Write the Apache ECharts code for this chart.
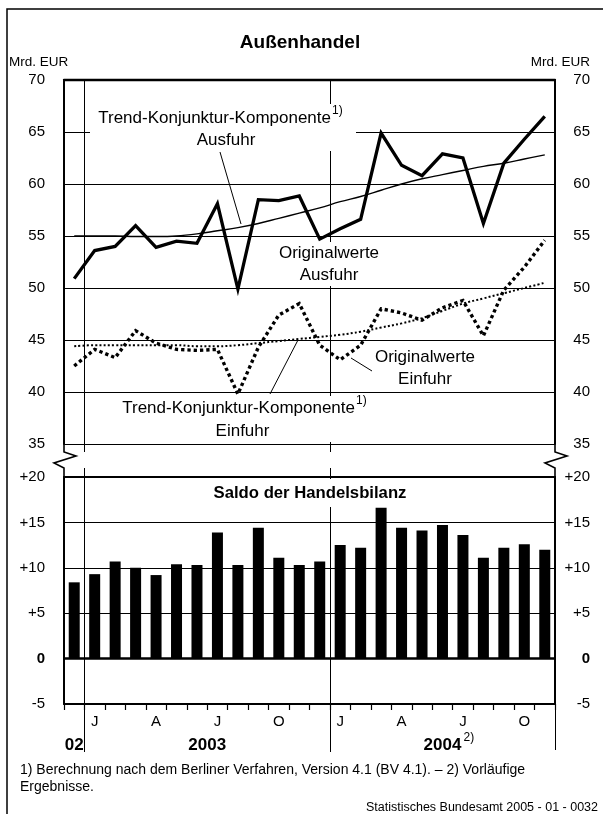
<!DOCTYPE html>
<html>
<head>
<meta charset="utf-8">
<script src="https://cdn.jsdelivr.net/npm/echarts@6/dist/echarts.min.js"></script>
<style>
  html, body { margin: 0; padding: 0; background: #fff; }
  #chart { width: 603px; height: 814px; }
</style>
</head>
<body>
<div id="chart"></div>
<script>
// Dez 2002 .. Nov 2004
const months = ['2002-12', '2003-01', '2003-02', '2003-03', '2003-04', '2003-05', '2003-06',
  '2003-07', '2003-08', '2003-09', '2003-10', '2003-11', '2003-12', '2004-01', '2004-02',
  '2004-03', '2004-04', '2004-05', '2004-06', '2004-07', '2004-08', '2004-09', '2004-10', '2004-11'];
const monthTickLabels = ['', 'J', '', '', 'A', '', '', 'J', '', '', 'O', '', '',
  'J', '', '', 'A', '', '', 'J', '', '', 'O', ''];

// Mrd. EUR
const exportsOrig = [50.9, 53.6, 54.0, 56.0, 53.9, 54.5, 54.3, 58.1, 49.9, 58.5, 58.4, 58.85,
  54.7, 55.7, 56.6, 64.9, 61.8, 60.8, 62.9, 62.5, 56.2, 62.0, 64.3, 66.5];
const exportsTrend = [55.0, 55.0, 55.0, 54.95, 54.95, 55.0, 55.2, 55.5, 55.8, 56.2, 56.7, 57.2,
  57.7, 58.3, 58.8, 59.4, 60.0, 60.5, 60.9, 61.3, 61.7, 62.0, 62.4, 62.8];
const importsOrig = [42.5, 44.1, 43.3, 45.9, 44.7, 44.1, 44.0, 44.1, 39.8, 44.3, 47.4, 48.5,
  44.5, 43.1, 44.5, 48.0, 47.6, 46.9, 48.1, 48.8, 45.4, 49.8, 52.0, 54.6];
const importsTrend = [44.4, 44.5, 44.5, 44.5, 44.5, 44.5, 44.4, 44.4, 44.5, 44.7, 44.9, 45.1,
  45.3, 45.5, 45.8, 46.2, 46.6, 47.1, 47.8, 48.5, 49.0, 49.5, 50.0, 50.5];
const balance = [8.4, 9.3, 10.7, 10.0, 9.2, 10.4, 10.3, 13.9, 10.3, 14.4, 11.1, 10.3,
  10.7, 12.5, 12.2, 16.6, 14.4, 14.1, 14.7, 13.6, 11.1, 12.2, 12.6, 12.0];

const yearNames = ['02', '2003', '2004'];
const yearFrom = [0, 1, 13];
const yearTo = [1, 13, 24];

const FONT = '"Liberation Sans", Arial, sans-serif';
const ink = '#000';

const chart = echarts.init(document.getElementById('chart'));

const signed = v => v === 0 ? '{b|0}' : (v > 0 ? '+' + v : String(v));
const yAxisBase = (grid, pos, min, max) => ({
  gridIndex: grid, type: 'value', min: min, max: max, interval: 5, position: pos,
  axisLine: { show: true, lineStyle: { color: ink, width: 2 } },
  axisTick: { show: false },
  axisLabel: {
    color: ink, fontSize: 15, fontFamily: FONT,
    margin: pos === 'left' ? 19 : 35, align: 'right',
    formatter: grid === 1 ? signed : undefined,
    rich: { b: { fontWeight: 'bold', fontSize: 15, fontFamily: FONT, color: ink } }
  },
  splitLine: { show: pos === 'left', lineStyle: { color: ink, width: 1 } }
});

const option = {
  animation: false,
  textStyle: { fontFamily: FONT },
  grid: [
    { left: 64, right: 48, top: 80, height: 364 },
    { left: 64, right: 48, top: 477, height: 227 }
  ],
  xAxis: [
    { gridIndex: 0, type: 'category', data: months, position: 'top',
      axisLine: { onZero: false, lineStyle: { color: ink, width: 2.3 } },
      axisTick: { show: false }, axisLabel: { show: false }, splitLine: { show: false } },
    { gridIndex: 1, type: 'category', data: months, position: 'top',
      axisLine: { onZero: false, lineStyle: { color: ink, width: 2 } },
      axisTick: { show: false }, axisLabel: { show: false }, splitLine: { show: false } },
    { gridIndex: 1, type: 'category', data: months, position: 'bottom',
      axisLine: { onZero: false, lineStyle: { color: ink, width: 2 } },
      axisTick: { show: true, interval: 0, length: 6, lineStyle: { color: ink, width: 1.2 } },
      axisLabel: { interval: 0, color: ink, fontSize: 15, margin: 10,
        formatter: (v, i) => monthTickLabels[i] },
      splitLine: { show: false } }
  ],
  yAxis: [
    yAxisBase(0, 'left', 35, 70),
    yAxisBase(0, 'right', 35, 70),
    yAxisBase(1, 'left', -5, 20),
    yAxisBase(1, 'right', -5, 20)
  ],
  series: [
    { name: 'Ausfuhr Trend', type: 'line', xAxisIndex: 0, yAxisIndex: 0, data: exportsTrend,
      smooth: 0.4, symbol: 'none', lineStyle: { color: ink, width: 1.4 } },
    { name: 'Ausfuhr', type: 'line', xAxisIndex: 0, yAxisIndex: 0, data: exportsOrig,
      symbol: 'none', lineStyle: { color: ink, width: 3.3, join: 'miter' } },
    { name: 'Einfuhr Trend', type: 'line', xAxisIndex: 0, yAxisIndex: 0, data: importsTrend,
      smooth: 0.4, symbol: 'none', lineStyle: { color: ink, width: 2, type: [2, 2.2], cap: 'butt' } },
    { name: 'Einfuhr', type: 'line', xAxisIndex: 0, yAxisIndex: 0, data: importsOrig,
      symbol: 'none', lineStyle: { color: ink, width: 3.4, type: [3.3, 3], cap: 'butt', join: 'miter' } },
    { name: 'Saldo', type: 'bar', xAxisIndex: 2, yAxisIndex: 2, data: balance,
      barWidth: 11, itemStyle: { color: ink },
      markLine: { silent: true, symbol: ['none', 'none'], label: { show: false },
        lineStyle: { color: ink, width: 2.5, type: 'solid' }, data: [{ yAxis: 0 }] } }
  ]
};
chart.setOption(option);

// decorations derived from the axes
const cx = i => chart.convertToPixel({ xAxisIndex: 0 }, months[i]);
const band = cx(1) - cx(0);
const crisp = v => Math.round(v) + 0.5;
const edge = i => cx(0) + (i - 0.5) * band;     // boundary before category i
const yTop = chart.convertToPixel({ yAxisIndex: 0 }, 70);
const y35 = chart.convertToPixel({ yAxisIndex: 0 }, 35);
const y20 = chart.convertToPixel({ yAxisIndex: 2 }, 20);
const yLow = chart.convertToPixel({ yAxisIndex: 2 }, -5);
const xL = edge(0), xR = edge(24);

const line = (x1, y1, x2, y2, w, z) => ({ type: 'line', silent: true, z: z,
  shape: { x1: x1, y1: y1, x2: x2, y2: y2 }, style: { stroke: ink, lineWidth: w } });
const text = (t, x, y, size, align, weight, z) => ({ type: 'text', silent: true, z: z || 6,
  style: { text: t, x: x, y: y, fill: ink, align: align || 'center', verticalAlign: 'middle',
    font: (weight || 'normal') + ' ' + size + 'px ' + FONT } });
const box = (x, y, w, h) => ({ type: 'rect', silent: true, z: 1,
  shape: { x: x, y: y, width: w, height: h }, style: { fill: '#fff' } });
const zig = x => ({ type: 'polyline', silent: true, z: 1,
  shape: { points: [[x, y35], [x, y35 + 8], [x + 12, y35 + 12], [x - 10, y35 + 19], [x, y35 + 24], [x, y20]] },
  style: { stroke: ink, lineWidth: 1.6, fill: null } });

const g = [];
// frame
g.push({ type: 'polyline', silent: true, z: 0, shape: { points: [[7, 814], [7, 9], [603, 9]] },
  style: { stroke: ink, lineWidth: 1.5, fill: null } });
// year separators
[1, 13].forEach(i => {
  const x = crisp(edge(i));
  g.push(line(x, yTop, x, y35 + 8, 1, 0));
  g.push(line(x, y20 - 9, x, yLow + 48, 1, 0));
});
g.push(line(crisp(xR), yLow, crisp(xR), yLow + 46, 1, 0));
// axis break
g.push(zig(xL), zig(xR));

// label boxes
g.push(box(90, 104, 266, 47));
g.push(box(272, 242, 112, 44));
g.push(box(108, 396, 264, 46));
g.push(box(206, 479, 208, 28));

// leader lines
g.push(line(220, 152, 241, 224, 1, 5));
g.push(line(351, 358, 372, 371, 1, 5));
g.push(line(270, 394, 298, 340, 1, 5));

// texts
g.push(text('Außenhandel', 300, 43, 19, 'center', 'bold'));
g.push(text('Mrd. EUR', 9, 62, 13.5, 'left'));
g.push(text('Mrd. EUR', 590, 62, 13.5, 'right'));
g.push(text('Trend-Konjunktur-Komponente', 331, 118, 17, 'right'));
g.push(text('1)', 332, 111, 12, 'left'));
g.push(text('Ausfuhr', 226, 140, 17));
g.push(text('Originalwerte', 329, 253, 17));
g.push(text('Ausfuhr', 329, 275, 17));
g.push(text('Originalwerte', 425, 357, 17));
g.push(text('Einfuhr', 425, 379, 17));
g.push(text('Trend-Konjunktur-Komponente', 355, 408, 17, 'right'));
g.push(text('1)', 356, 401, 12, 'left'));
g.push(text('Einfuhr', 242.5, 431.5, 17));
g.push(text('Saldo der Handelsbilanz', 310, 493, 16.7, 'center', 'bold'));

yearNames.forEach((name, k) => {
  const mid = (edge(yearFrom[k]) + edge(yearTo[k])) / 2;
  g.push(text(name, mid, 745, 17, 'center', 'bold'));
});
const mid04 = (edge(13) + edge(24)) / 2;
g.push(text('2)', mid04 + 21, 738, 12, 'left'));

g.push(text('1) Berechnung nach dem Berliner Verfahren, Version 4.1 (BV 4.1). \u2013 2) Vorläufige', 20, 770, 14, 'left'));
g.push(text('Ergebnisse.', 20, 787, 14, 'left'));
g.push(text('Statistisches Bundesamt 2005 - 01 - 0032', 598, 808, 12.5, 'right'));

chart.setOption({ graphic: g });
</script>
</body>
</html>
